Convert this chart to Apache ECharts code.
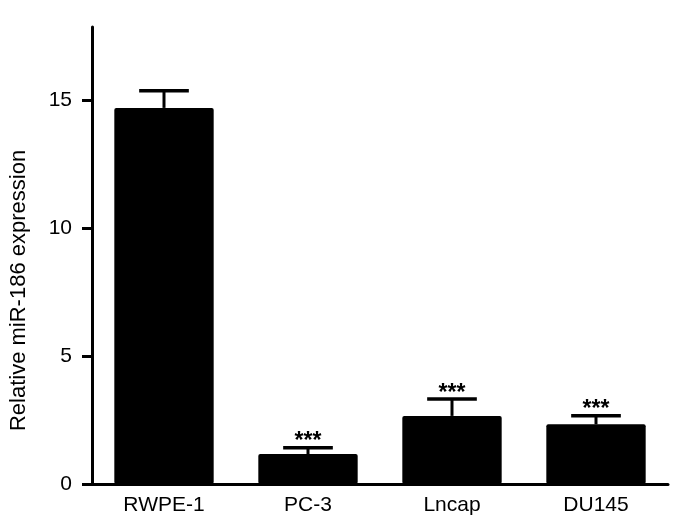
<!DOCTYPE html>
<html>
<head>
<meta charset="utf-8">
<script src="https://cdn.jsdelivr.net/npm/echarts@6/dist/echarts.min.js"></script>
<style>html,body{margin:0;padding:0;background:#fff;}#main{width:676px;height:528px;}</style>
</head>
<body>
<div id="main"></div>
<script>
const categories = ['RWPE-1', 'PC-3', 'Lncap', 'DU145'];
const means = [14.69, 1.17, 2.66, 2.33];
const errors = [0.67, 0.25, 0.66, 0.34];
const significance = ['', '***', '***', '***'];
const yTicks = [0, 5, 10, 15];
const yName = 'Relative miR-186 expression';

const FONT = 'Liberation Sans, Arial, sans-serif';
const chart = echarts.init(document.getElementById('main'));
const errData = categories.map((c, i) => [i, means[i], means[i] + errors[i], significance[i]]);

chart.setOption({
  animation: false,
  backgroundColor: '#fff',
  grid: { left: 91, right: 8, top: 27, bottom: 44, containLabel: false },
  xAxis: {
    type: 'category',
    data: categories,
    axisLine: { lineStyle: { color: '#000', width: 3 } },
    axisTick: { show: false },
    axisLabel: { color: '#000', fontSize: 21, fontFamily: FONT, margin: 11 },
    splitLine: { show: false }
  },
  yAxis: {
    type: 'value',
    min: 0,
    max: 17.85,
    name: yName,
    nameLocation: 'middle',
    nameGap: 62,
    nameRotate: 90,
    nameTextStyle: { color: '#000', fontSize: 22, fontFamily: FONT, padding: [0, 70, 0, 0] },
    axisLine: { show: true, lineStyle: { color: '#000', width: 3 } },
    axisTick: { show: true, length: 10, lineStyle: { color: '#000', width: 3 }, customValues: yTicks },
    axisLabel: { color: '#000', fontSize: 21, fontFamily: FONT, margin: 20, customValues: yTicks },
    splitLine: { show: false }
  },
  series: [
    {
      type: 'bar',
      data: means,
      barWidth: '69%',
      itemStyle: { color: '#000', borderRadius: 2 },
      z: 2
    },
    {
      type: 'custom',
      data: errData,
      z: 3,
      renderItem: function (params, api) {
        const x = api.value(0);
        const base = api.coord([x, api.value(1)]);
        const top = api.coord([x, api.value(2)]);
        const band = api.size([1, 0])[0];
        const half = band * 0.69 * 0.25;
        const children = [
          { type: 'line', shape: { x1: base[0], y1: base[1], x2: top[0], y2: top[1] }, style: { stroke: '#000', lineWidth: 3 } },
          { type: 'line', shape: { x1: top[0] - half, y1: top[1], x2: top[0] + half, y2: top[1] }, style: { stroke: '#000', lineWidth: 3.5 } }
        ];
        const s = api.value(3);
        if (s) {
          children.push({
            type: 'text',
            style: { text: s, x: top[0], y: top[1] + 6, align: 'center', verticalAlign: 'bottom', fontSize: 23, fontWeight: 'bold', fontFamily: FONT, fill: '#000' }
          });
        }
        return { type: 'group', children: children };
      }
    }
  ]
});
</script>
</body>
</html>
